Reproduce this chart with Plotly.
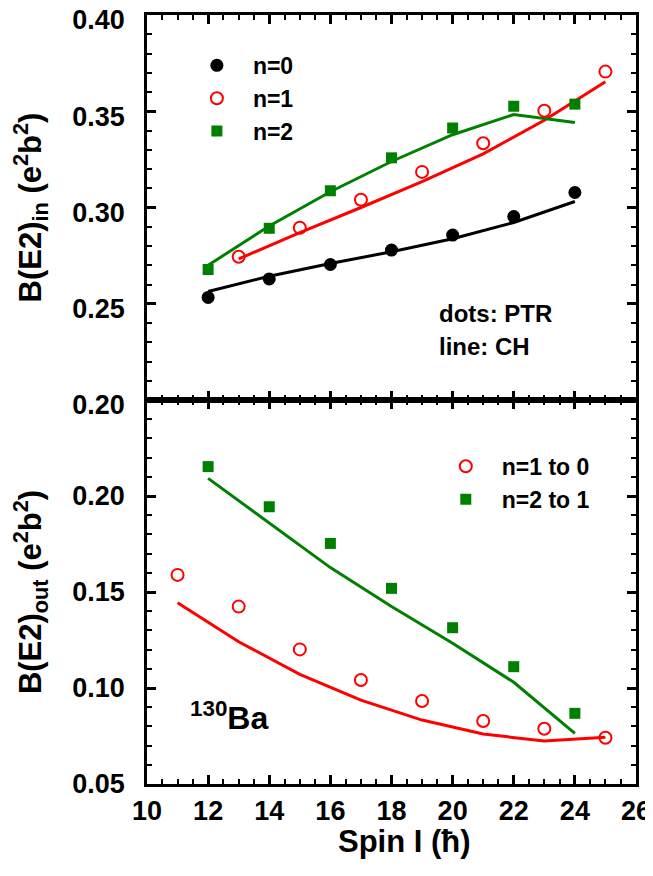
import plotly.graph_objects as go

# ---------------- data ----------------
spin_even = [12, 14, 16, 18, 20, 22, 24]
spin_odd = [13, 15, 17, 19, 21, 23, 25]
spin_out_odd = [11, 13, 15, 17, 19, 21, 23, 25]

# top panel: B(E2)_in
n0_ptr = [0.2533, 0.2629, 0.2704, 0.2779, 0.2857, 0.2953, 0.3078]
n0_ch = [0.2564, 0.2643, 0.2709, 0.2770, 0.2838, 0.2922, 0.3031]
n1_ptr = [0.2744, 0.2895, 0.3040, 0.3185, 0.3334, 0.3503, 0.3706]
n1_ch = [0.2733, 0.2869, 0.3000, 0.3134, 0.3279, 0.3453, 0.3653]
n2_ptr = [0.2678, 0.2892, 0.3087, 0.3258, 0.3413, 0.3526, 0.3537]
n2_ch = [0.2700, 0.2904, 0.3082, 0.3239, 0.3378, 0.3483, 0.3441]

# bottom panel: B(E2)_out
out10_ptr = [0.1589, 0.1424, 0.1201, 0.1042, 0.0932, 0.0828, 0.0788, 0.0741]
out10_ch = [0.1444, 0.1241, 0.1071, 0.0937, 0.0833, 0.0760, 0.0724, 0.0743]
out21_ptr = [0.2153, 0.1944, 0.1753, 0.1519, 0.1314, 0.1111, 0.0868]
out21_ch = [0.2092, 0.1858, 0.1627, 0.1424, 0.1233, 0.1030, 0.0764]

x_ticks = [10, 12, 14, 16, 18, 20, 22, 24, 26]
y_top_ticks = [0.20, 0.25, 0.30, 0.35, 0.40]
y_bot_ticks = [0.05, 0.10, 0.15, 0.20]

# ---------------- styling ----------------
FONT = "Liberation Sans, Arial, sans-serif"
BLACK = "#000000"
RED = "#ff0000"
GREEN = "#008000"
LW = 3

fig = go.Figure()

# lines (CH)
fig.add_trace(go.Scatter(x=spin_even, y=n0_ch, mode="lines", line=dict(color=BLACK, width=LW),
                         xaxis="x2", yaxis="y2", showlegend=False, hoverinfo="skip"))
fig.add_trace(go.Scatter(x=spin_odd, y=n1_ch, mode="lines", line=dict(color=RED, width=LW),
                         xaxis="x2", yaxis="y2", showlegend=False, hoverinfo="skip"))
fig.add_trace(go.Scatter(x=spin_even, y=n2_ch, mode="lines", line=dict(color=GREEN, width=LW),
                         xaxis="x2", yaxis="y2", showlegend=False, hoverinfo="skip"))
fig.add_trace(go.Scatter(x=spin_out_odd, y=out10_ch, mode="lines", line=dict(color=RED, width=LW),
                         xaxis="x", yaxis="y", showlegend=False, hoverinfo="skip"))
fig.add_trace(go.Scatter(x=spin_even, y=out21_ch, mode="lines", line=dict(color=GREEN, width=LW),
                         xaxis="x", yaxis="y", showlegend=False, hoverinfo="skip"))

# points (PTR)
fig.add_trace(go.Scatter(x=spin_even, y=n0_ptr, mode="markers", name="n=0",
                         marker=dict(symbol="circle", size=13, color=BLACK),
                         xaxis="x2", yaxis="y2", legend="legend"))
fig.add_trace(go.Scatter(x=spin_odd, y=n1_ptr, mode="markers", name="n=1",
                         marker=dict(symbol="circle-open", size=12, color=RED, line=dict(width=2, color=RED)),
                         xaxis="x2", yaxis="y2", legend="legend"))
fig.add_trace(go.Scatter(x=spin_even, y=n2_ptr, mode="markers", name="n=2",
                         marker=dict(symbol="square", size=11, color=GREEN),
                         xaxis="x2", yaxis="y2", legend="legend"))
fig.add_trace(go.Scatter(x=spin_out_odd, y=out10_ptr, mode="markers", name="n=1 to 0",
                         marker=dict(symbol="circle-open", size=12, color=RED, line=dict(width=2, color=RED)),
                         xaxis="x", yaxis="y", legend="legend2"))
fig.add_trace(go.Scatter(x=spin_even, y=out21_ptr, mode="markers", name="n=2 to 1",
                         marker=dict(symbol="square", size=11, color=GREEN),
                         xaxis="x", yaxis="y", legend="legend2"))

split = 384 / 769

tickfont = dict(family=FONT, size=27, color=BLACK, weight="bold")
titlefont = dict(family=FONT, size=31, color=BLACK, weight="bold")
legfont = dict(family=FONT, size=23, color=BLACK, weight="bold")

common_x = dict(range=[10, 26], showline=True, linewidth=2.5, linecolor=BLACK, mirror="ticks",
                ticks="inside", ticklen=9, tickwidth=2.5, tickcolor=BLACK,
                tickmode="array", tickvals=x_ticks, automargin=False, ticklabeloverflow="allow",
                minor=dict(dtick=0.5, tick0=10, ticks="inside", ticklen=5, tickwidth=2, tickcolor=BLACK),
                showgrid=False, zeroline=False)
common_y = dict(showline=True, linewidth=2.5, linecolor=BLACK, mirror="ticks",
                ticks="inside", ticklen=9, tickwidth=2.5, tickcolor=BLACK, automargin=False,
                ticklabeloverflow="allow",
                minor=dict(dtick=0.01, tick0=0.0, ticks="inside", ticklen=5, tickwidth=2, tickcolor=BLACK),
                showgrid=False, zeroline=False, tickformat=".2f", tickfont=tickfont,
                ticklabelstandoff=14)

# the page body has an 8px default margin, so the figure is 8px smaller on each
# axis and its margins are offset accordingly
fig.update_layout(
    width=645, height=868,
    margin=dict(l=139, r=17, t=7, b=92, autoexpand=False),
    paper_bgcolor="white", plot_bgcolor="white",
    font=dict(family=FONT, color=BLACK),
    xaxis=dict(common_x, anchor="y", domain=[0, 1], tickfont=tickfont, ticklabelstandoff=1),
    xaxis2=dict(common_x, anchor="y2", domain=[0, 1], showticklabels=False, matches="x"),
    yaxis=dict(common_y, anchor="x", domain=[0, split], range=[0.05, 0.25],
               tickmode="array", tickvals=y_bot_ticks,
               title=dict(text="B(E2)<sub>out</sub> (e<sup>2</sup>b<sup>2</sup>)", font=titlefont, standoff=32)),
    yaxis2=dict(common_y, anchor="x2", domain=[split, 1], range=[0.20, 0.40],
                tickmode="array", tickvals=y_top_ticks, ticklabelshift=5,
                title=dict(text="B(E2)<sub>in</sub> (e<sup>2</sup>b<sup>2</sup>)", font=titlefont, standoff=32)),
    legend=dict(x=0.0693, y=0.9625, xanchor="left", yanchor="top", bgcolor="rgba(0,0,0,0)",
                font=legfont, tracegroupgap=0, itemwidth=62),
    legend2=dict(x=0.5783, y=0.441, xanchor="left", yanchor="top", bgcolor="rgba(0,0,0,0)",
                 font=legfont, tracegroupgap=0, itemwidth=62),
    annotations=[
        dict(text="Spin I (ħ)", x=0.5256, y=-57 / 769, xref="paper", yref="paper",
             xanchor="center", yanchor="middle", showarrow=False,
             font=dict(family=FONT, size=31, color=BLACK, weight="bold")),
        dict(text="dots: PTR", x=19.5, y=0.2448, xref="x2", yref="y2", xanchor="left", yanchor="middle",
             showarrow=False, font=dict(family=FONT, size=24, color=BLACK, weight="bold")),
        dict(text="line: CH", x=19.5, y=0.2276, xref="x2", yref="y2", xanchor="left", yanchor="middle",
             showarrow=False, font=dict(family=FONT, size=24, color=BLACK, weight="bold")),
        dict(text="<sup>130</sup>Ba", x=11.34, y=0.0854, xref="x", yref="y", xanchor="left", yanchor="middle",
             showarrow=False, font=dict(family=FONT, size=32, color=BLACK, weight="bold")),
    ],
)

fig.write_html("out.html")
